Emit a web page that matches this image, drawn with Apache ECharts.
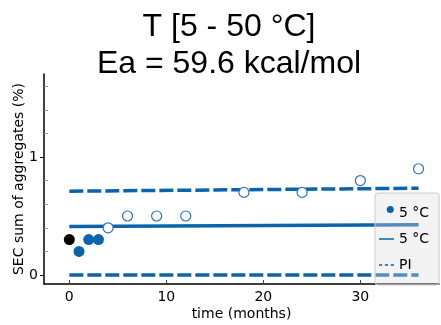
<!DOCTYPE html>
<html>
<head>
<meta charset="utf-8">
<script src="https://cdn.jsdelivr.net/npm/echarts@6/dist/echarts.min.js"></script>
<style>
  html, body { margin: 0; padding: 0; background: #fff; }
  #chart { width: 441px; height: 325px; }
</style>
</head>
<body>
<div id="chart"></div>
<script>
// tick labels
const timeTicks = [0, 10, 20, 30];
const yTickLabels = [0, 1];
const yMinorTicks = [0.2, 0.4, 0.6, 0.8, 1.2, 1.4, 1.6];

// initial point (black)
const initTime = [0];
const initValue = [0.3];
// measured points at 5 °C
const obsTime = [1, 2, 3];
const obsValue = [0.2, 0.3, 0.3];
// open circles
const openTime = [4, 6, 9, 12, 18, 24, 30, 36];
const openValue = [0.4, 0.5, 0.5, 0.5, 0.7, 0.7, 0.8, 0.9];
// fitted line and prediction interval
const fitTime = [0, 36];
const fitValue = [0.41, 0.425];
const piUpper = [0.71, 0.735];
const piLower = [0, 0];

const pairs = (xs, ys) => xs.map((x, i) => [x, ys[i]]);

const BLUE = '#0b63ab';
const FONT = 'DejaVu Sans';

const chart = echarts.init(document.getElementById('chart'), null, { renderer: 'canvas' });

const option = {
  animation: false,
  title: {
    text: 'T [5 - 50 °C]\nEa = 59.6 kcal/mol',
    left: 224,
    top: 4,
    textAlign: 'center',
    textStyle: {
      fontFamily: 'Liberation Sans',
      fontSize: 32,
      fontWeight: 'normal',
      color: '#000',
      lineHeight: 37
    }
  },
  grid: { left: 44, right: 2, top: 74, bottom: 41, containLabel: false, outerBoundsMode: 'none' },
  legend: {
    orient: 'vertical',
    left: 375,
    top: 193,
    padding: [13, 10, 13, 4],
    itemWidth: 15,
    itemHeight: 14,
    itemGap: 12,
    backgroundColor: 'rgba(221,221,221,0.35)',
    borderColor: '#cccccc',
    borderWidth: 1,
    borderRadius: 3,
    textStyle: { fontFamily: FONT, fontSize: 14, color: '#000' },
    formatter: name => (name === 'pi' ? 'PI' : '5 °C'),
    data: [
      { name: 'obs', icon: 'path://M0,14M7.5,3.5A3.5,3.5,0,1,1,14.5,3.5A3.5,3.5,0,1,1,7.5,3.5Z' },
      { name: 'fit', icon: 'path://M0,0H15V1.5H0Z' },
      { name: 'pi', icon: 'path://M0,0H3V1.5H0ZM5.5,0H8.5V1.5H5.5ZM11,0H14V1.5H11Z' }
    ]
  },
  xAxis: {
    type: 'value',
    min: -2.61,
    max: 38.11,
    name: 'time (months)',
    nameLocation: 'middle',
    nameGap: 23,
    nameMoveOverlap: false,
    nameTextStyle: { fontFamily: FONT, fontSize: 14, color: '#000' },
    axisLine: { show: true, onZero: false, lineStyle: { color: '#000', width: 1.5 } },
    axisTick: { show: true, inside: true, length: 4, customValues: timeTicks, lineStyle: { color: '#444' } },
    axisLabel: { fontFamily: FONT, fontSize: 14, color: '#000', margin: 6, customValues: timeTicks },
    splitLine: { show: false }
  },
  yAxis: [
    {
      type: 'value',
      min: -0.0763,
      max: 1.703,
      name: 'SEC sum of aggregates (%)',
      nameLocation: 'middle',
      nameGap: 18,
      nameMoveOverlap: false,
      nameTextStyle: { fontFamily: FONT, fontSize: 14, color: '#000' },
      axisLine: { show: true, onZero: false, lineStyle: { color: '#000', width: 1.5 } },
      axisTick: { show: true, inside: false, length: 4, customValues: yTickLabels, lineStyle: { color: '#000' } },
      axisLabel: { fontFamily: FONT, fontSize: 14, color: '#000', margin: 6, customValues: yTickLabels },
      splitLine: { show: false }
    },
    {
      type: 'value',
      min: -0.0763,
      max: 1.703,
      position: 'left',
      offset: 0,
      axisLine: { show: false, onZero: false },
      axisTick: { show: true, inside: true, length: 4, customValues: yMinorTicks, lineStyle: { color: '#999' } },
      axisLabel: { show: false },
      splitLine: { show: false }
    }
  ],
  series: [
    {
      name: 'pi',
      type: 'line',
      symbol: 'none',
      data: pairs(fitTime, piUpper),
      lineStyle: { color: BLUE, width: 3.5, type: [14, 4] },
      itemStyle: { color: BLUE },
      z: 2
    },
    {
      name: 'pi',
      type: 'line',
      symbol: 'none',
      data: pairs(fitTime, piLower),
      lineStyle: { color: BLUE, width: 3.5, type: [14, 4] },
      itemStyle: { color: BLUE },
      z: 2
    },
    {
      name: 'fit',
      type: 'line',
      symbol: 'none',
      data: pairs(fitTime, fitValue),
      lineStyle: { color: BLUE, width: 3.5 },
      itemStyle: { color: BLUE },
      z: 2
    },
    {
      name: 'open',
      type: 'scatter',
      symbol: 'circle',
      symbolSize: 10,
      data: pairs(openTime, openValue),
      itemStyle: { color: '#fff', borderColor: '#2f74b8', borderWidth: 1.2, opacity: 1 },
      z: 3
    },
    {
      name: 'init',
      type: 'scatter',
      symbol: 'circle',
      symbolSize: 11,
      data: pairs(initTime, initValue),
      itemStyle: { color: '#000', opacity: 1 },
      z: 3
    },
    {
      name: 'obs',
      type: 'scatter',
      symbol: 'circle',
      symbolSize: 11,
      data: pairs(obsTime, obsValue),
      itemStyle: { color: BLUE, opacity: 1 },
      z: 3
    }
  ]
};

chart.setOption(option);
</script>
</body>
</html>
